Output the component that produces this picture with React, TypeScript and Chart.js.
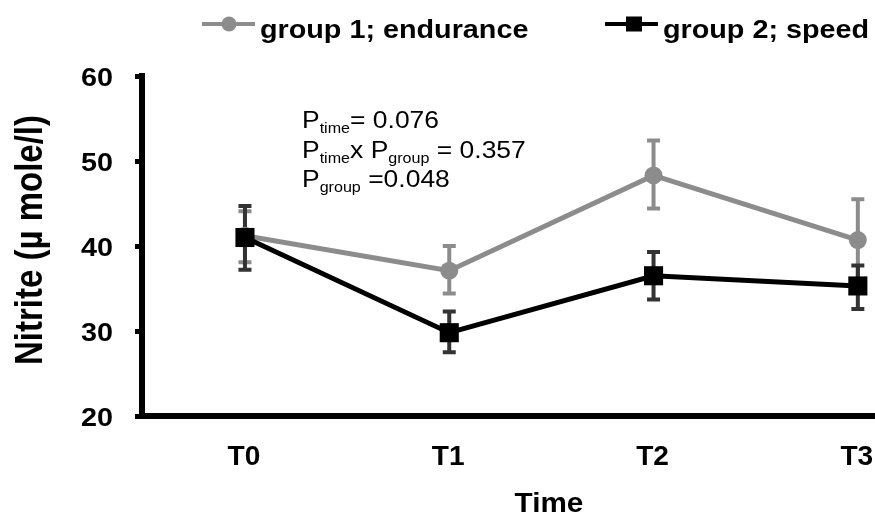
import React, { useEffect, useRef } from "react";
import { Chart, registerables } from "chart.js";

Chart.register(...registerables);

// ---- data ----
const categories = ["T0", "T1", "T2", "T3"];
const yTickValues = [20, 30, 40, 50, 60];

const g1Name = "group 1; endurance";
const g1Values = [41.2, 37.1, 48.3, 40.7];
const g1High = [44.1, 40.0, 52.4, 45.5];
const g1Low = [38.1, 34.4, 44.4, 35.9];

const g2Name = "group 2; speed";
const g2Values = [41.0, 29.8, 36.5, 35.3];
const g2High = [44.7, 32.3, 39.3, 37.7];
const g2Low = [37.2, 27.5, 33.7, 32.6];

const xTitle = "Time";
const yTitle = "Nitrite (µ mole/l)";

type Run = { t: string; sub?: boolean };
const statLines: Run[][] = [
  [{ t: "P" }, { t: "time", sub: true }, { t: "= 0.076" }],
  [{ t: "P" }, { t: "time", sub: true }, { t: "x P" }, { t: "group", sub: true }, { t: " = 0.357" }],
  [{ t: "P" }, { t: "group", sub: true }, { t: " =0.048" }],
];

// ---- styles ----
const GRAY = "#8c8c8c";
const BLACK = "#000000";
const GRAY_ERR = "#8c8c8c";
const BLACK_ERR = "#333333";
const FAMILY = "'Liberation Sans', Arial, sans-serif";
const SX = 1.15;

function stretchedText(
  ctx: CanvasRenderingContext2D,
  text: string,
  x: number,
  y: number,
  font: string,
  align: "left" | "center" | "right",
  baseline: CanvasTextBaseline,
  sx = SX
) {
  ctx.save();
  ctx.font = font;
  ctx.textAlign = "left";
  ctx.textBaseline = baseline;
  const w = ctx.measureText(text).width * sx;
  let x0 = x;
  if (align === "center") x0 = x - w / 2;
  else if (align === "right") x0 = x - w;
  ctx.translate(x0, y);
  ctx.scale(sx, 1);
  ctx.fillStyle = "#000";
  ctx.fillText(text, 0, 0);
  ctx.restore();
  return w;
}

const errorBarPlugin = {
  id: "errorBars",
  beforeDatasetsDraw(chart: any) {
    const { ctx } = chart;
    const xs = chart.scales.x;
    const ys = chart.scales.y;
    const series = [
      { high: g1High, low: g1Low, color: GRAY_ERR },
      { high: g2High, low: g2Low, color: BLACK_ERR },
    ];
    series.forEach((s) => {
      ctx.save();
      ctx.strokeStyle = s.color;
      ctx.lineWidth = 4;
      ctx.lineCap = "butt";
      s.high.forEach((h, i) => {
        const px = xs.getPixelForValue(i);
        const yh = ys.getPixelForValue(h);
        const yl = ys.getPixelForValue(s.low[i]);
        ctx.beginPath();
        ctx.moveTo(px, yh);
        ctx.lineTo(px, yl);
        ctx.moveTo(px - 6.5, yh);
        ctx.lineTo(px + 6.5, yh);
        ctx.moveTo(px - 6.5, yl);
        ctx.lineTo(px + 6.5, yl);
        ctx.stroke();
      });
      ctx.restore();
    });
  },
};

const decorPlugin = {
  id: "decor",
  afterDraw(chart: any) {
    const { ctx, chartArea } = chart;
    const xs = chart.scales.x;
    const ys = chart.scales.y;
    const bold = `bold 25px ${FAMILY}`;

    // y tick labels
    yTickValues.forEach((v) => {
      const py = ys.getPixelForValue(v);
      stretchedText(ctx, String(v), chartArea.left - 29, py + 3, bold, "right", "middle");
    });
    // x tick labels
    categories.forEach((c, i) => {
      const px = xs.getPixelForValue(i);
      stretchedText(ctx, c, px - 1, chartArea.bottom + 42, `bold 27px ${FAMILY}`, "center", "middle", 1.04);
    });
    // x title
    stretchedText(ctx, xTitle, 549, 505, `bold 27px ${FAMILY}`, "center", "middle", 1.1);
    // y title (rotated)
    ctx.save();
    ctx.translate(42, 240);
    ctx.rotate(-Math.PI / 2);
    ctx.scale(1, SX);
    ctx.font = `bold 33px ${FAMILY}`;
    ctx.textAlign = "center";
    ctx.textBaseline = "alphabetic";
    ctx.fillStyle = "#000";
    ctx.fillText(yTitle, 0, 0);
    ctx.restore();

    // legend
    const ly = 24;
    ctx.save();
    ctx.strokeStyle = GRAY;
    ctx.lineWidth = 4;
    ctx.beginPath();
    ctx.moveTo(202, ly);
    ctx.lineTo(255, ly);
    ctx.stroke();
    ctx.fillStyle = GRAY;
    ctx.beginPath();
    ctx.arc(229, ly, 7.5, 0, Math.PI * 2);
    ctx.fill();
    ctx.strokeStyle = BLACK;
    ctx.beginPath();
    ctx.moveTo(605, ly);
    ctx.lineTo(658, ly);
    ctx.stroke();
    ctx.fillStyle = BLACK;
    ctx.fillRect(626, ly - 7.5, 16, 15);
    ctx.restore();
    stretchedText(ctx, g1Name, 260, 38, bold, "left", "alphabetic");
    stretchedText(ctx, g2Name, 663, 38, bold, "left", "alphabetic");

    // statistics annotation
    const baselines = [128, 158, 187];
    statLines.forEach((runs, li) => {
      let x = 302;
      runs.forEach((r) => {
        const font = r.sub ? `14px ${FAMILY}` : `23px ${FAMILY}`;
        const w = stretchedText(ctx, r.t, x, baselines[li] + (r.sub ? 5 : 0), font, "left", "alphabetic", 1.15);
        x += w;
      });
    });
  },
};

export default function App() {
  const ref = useRef<HTMLCanvasElement>(null);
  useEffect(() => {
    document.body.style.margin = "0";
    const canvas = ref.current!;
    const chart = new Chart(canvas, {
      type: "line",
      data: {
        datasets: [
          {
            label: g1Name,
            data: g1Values.map((v, i) => ({ x: i, y: v })),
            borderColor: GRAY,
            backgroundColor: GRAY,
            borderWidth: 5,
            pointStyle: "circle",
            pointRadius: 9,
            pointBorderWidth: 0,
            order: 1,
          },
          {
            label: g2Name,
            data: g2Values.map((v, i) => ({ x: i, y: v })),
            borderColor: BLACK,
            backgroundColor: BLACK,
            borderWidth: 5,
            pointStyle: "rect",
            pointRadius: 13.5,
            pointBorderWidth: 0,
            order: 0,
          },
        ],
      },
      options: {
        responsive: false,
        animation: false,
        events: [],
        layout: { autoPadding: false, padding: { top: 76, left: 0, right: 0, bottom: 0 } },
        plugins: { legend: { display: false }, tooltip: { enabled: false }, title: { display: false } },
        scales: {
          x: {
            type: "linear",
            min: -0.504,
            max: 3.084,
            afterBuildTicks: (scale: any) => {
              scale.ticks = categories.map((_, i) => ({ value: i }));
            },
            afterFit: (scale: any) => {
              scale.height = 100;
            },
            ticks: { display: false },
            grid: { display: true, drawOnChartArea: false, drawTicks: false },
            border: { display: true, color: "#000", width: 6 },
          },
          y: {
            min: 20,
            max: 60,
            afterBuildTicks: (scale: any) => {
              scale.ticks = yTickValues.map((v) => ({ value: v }));
            },
            afterFit: (scale: any) => {
              scale.width = 142;
            },
            ticks: { display: false },
            grid: {
              display: true,
              drawOnChartArea: false,
              drawTicks: true,
              tickLength: 7,
              tickWidth: 5,
              tickColor: "#000",
            },
            border: { display: true, color: "#000", width: 6 },
          },
        },
      },
      plugins: [errorBarPlugin, decorPlugin],
    });
    return () => chart.destroy();
  }, []);
  return (
    <div style={{ width: 875, height: 516 }}>
      <canvas ref={ref} width={875} height={516} style={{ display: "block" }} />
    </div>
  );
}
